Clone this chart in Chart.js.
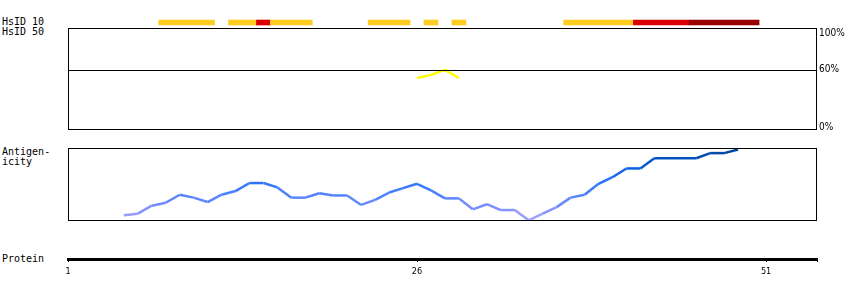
<!DOCTYPE html>
<html>
<head>
<meta charset="utf-8">
<script src="https://cdn.jsdelivr.net/npm/chart.js@4/dist/chart.umd.min.js"></script>
<style>
  body { margin: 0; background: #fff; }
  #wrap { position: relative; width: 850px; height: 300px; overflow: hidden; }
  #wrap canvas { position: absolute; left: 0; }
  .lbl { position: absolute; left: 2px; font: 10px "DejaVu Sans Mono", monospace; line-height: 10px; color: #000; white-space: pre; }
</style>
</head>
<body>
<div id="wrap">
  <div class="lbl" style="top:17px">HsID 10
HsID 50</div>
  <div class="lbl" style="top:147px">Antigen-
icity</div>
  <div class="lbl" style="top:254px">Protein</div>
  <canvas id="hsid" width="850" height="22" style="top:17px"></canvas>
  <canvas id="ident" width="850" height="120" style="top:20px"></canvas>
  <canvas id="antigen" width="850" height="90" style="top:140px"></canvas>
  <canvas id="protein" width="850" height="35" style="top:245px"></canvas>
</div>
<script>
// residue axis
const residueMin = 1;
const residueMax = 54.65;
const proteinTicks = [1, 26, 51];

// HsID rows and the HsID 10 segments (residue ranges)
const hsidRows = ['HsID 10', 'HsID 50'];
const hsid10Start = [8, 13, 15, 16, 23, 27, 29, 37, 42, 46];
const hsid10End = [11, 14, 15, 18, 25, 27, 29, 41, 45, 50];
const hsid10Level = ['mid', 'mid', 'high', 'mid', 'mid', 'mid', 'mid', 'mid', 'high', 'top'];

// identity (%) track
const identityResidues = [26, 27, 28, 29];
const identityValues = [51, 54, 59, 51];
const identityTicks = [0, 60, 100];

// antigenicity track (0-100)
const antigenResidues = [5, 6, 7, 8, 9, 10, 11, 12, 13, 14, 15, 16, 17, 18, 19, 20, 21, 22, 23, 24, 25, 26, 27,
    28, 29, 30, 31, 32, 33, 34, 35, 36, 37, 38, 39, 40, 41, 42, 43, 44, 45, 46, 47, 48, 49];
const antigenValues = [8, 10, 21, 25, 36, 32, 26, 36, 41, 52, 52, 46, 32, 32, 38, 35, 35, 22, 29, 39, 45, 51, 42,
    31, 31, 16, 23, 15, 15, 1, 10, 19, 32, 36, 51, 60, 72, 72, 86, 86, 86, 86, 93, 93, 98];

const levelColors = { mid: '#FFCC22', high: '#DD0000', top: '#990000' };
const pad = { left: 68, right: 33 };

function xScale(display) {
    return { type: 'linear', min: residueMin, max: residueMax, display: display };
}

function antigenColor(v) {
    const stops = [[0, [176, 166, 255]], [20, [120, 140, 255]], [40, [70, 128, 255]], [55, [40, 112, 250]], [75, [6, 94, 222]], [100, [0, 66, 150]]];
    for (let i = 1; i < stops.length; i++) {
        if (v <= stops[i][0]) {
            const a = stops[i - 1], b = stops[i];
            const t = (v - a[0]) / (b[0] - a[0]);
            const c = a[1].map((ch, k) => Math.round(ch + (b[1][k] - ch) * t));
            return 'rgb(' + c.join(',') + ')';
        }
    }
    return 'rgb(0,66,150)';
}

// black box round the plot area
const framePlugin = {
    id: 'frame',
    afterDraw: function (chart) {
        const a = chart.chartArea, ctx = chart.ctx;
        ctx.save();
        ctx.strokeStyle = '#000';
        ctx.lineWidth = 1;
        ctx.strokeRect(a.left + 0.5, a.top + 0.5, a.right - a.left - 1, a.bottom - a.top - 1);
        ctx.restore();
    }
};

const baseOptions = {
    responsive: false,
    animation: false,
    events: [],
    plugins: { legend: { display: false }, tooltip: { enabled: false } }
};

// HsID bars
new Chart(document.getElementById('hsid'), {
    type: 'bar',
    data: {
        labels: hsidRows,
        datasets: [{
            data: hsid10Start.map((s, i) => ({ x: [s - 0.5, hsid10End[i] + 0.5], y: hsidRows[0] })),
            backgroundColor: hsid10Level.map(l => levelColors[l]),
            borderWidth: 0,
            barThickness: 5
        }]
    },
    options: Object.assign({}, baseOptions, {
        indexAxis: 'y',
        layout: { padding: { left: pad.left, right: pad.right, top: 0, bottom: 0 } },
        scales: {
            x: xScale(false),
            y: { type: 'category', labels: hsidRows, display: false }
        }
    })
});

// identity track
new Chart(document.getElementById('ident'), {
    type: 'line',
    data: {
        datasets: [{
            data: identityResidues.map((r, i) => ({ x: r, y: identityValues[i] })),
            borderColor: '#FFFF00',
            borderWidth: 2.5,
            pointRadius: 0,
            tension: 0
        }]
    },
    options: Object.assign({}, baseOptions, {
        layout: { padding: { left: pad.left, right: pad.right, top: 8, bottom: 10 } },
        scales: {
            x: xScale(false),
            y: { type: 'linear', min: 0, max: 100, display: false }
        }
    }),
    plugins: [framePlugin, {
        id: 'identityAxis',
        afterDraw: function (chart) {
            const a = chart.chartArea, ctx = chart.ctx, y = chart.scales.y;
            ctx.save();
            ctx.strokeStyle = '#000';
            ctx.lineWidth = 1;
            ctx.fillStyle = '#000';
            ctx.font = '10px "Liberation Sans Narrow", "DejaVu Sans Condensed", sans-serif';
            ctx.textAlign = 'left';
            identityTicks.forEach(v => {
                const py = y.getPixelForValue(v);
                if (v > 0 && v < 100) {
                    const ly = Math.round(py) + 1.5;
                    ctx.beginPath();
                    ctx.moveTo(a.left, ly);
                    ctx.lineTo(a.right, ly);
                    ctx.stroke();
                }
                ctx.textBaseline = v === 100 ? 'top' : (v === 0 ? 'alphabetic' : 'middle');
                ctx.fillText(v + '%', a.right + 2, v === 0 ? a.bottom : (v === 100 ? py : py + 1));
            });
            ctx.restore();
        }
    }]
});

// antigenicity track
new Chart(document.getElementById('antigen'), {
    type: 'line',
    data: {
        datasets: [{
            data: antigenResidues.map((r, i) => ({ x: r, y: antigenValues[i] })),
            borderColor: '#3478ff',
            segment: {
                borderColor: c => antigenColor((c.p0.parsed.y + c.p1.parsed.y) / 2)
            },
            borderWidth: 2.5,
            pointRadius: 0,
            tension: 0
        }]
    },
    options: Object.assign({}, baseOptions, {
        layout: { padding: { left: pad.left, right: pad.right, top: 8, bottom: 9 } },
        scales: {
            x: xScale(false),
            y: { type: 'linear', min: 0, max: 100, display: false }
        }
    }),
    plugins: [framePlugin]
});

// protein ruler
new Chart(document.getElementById('protein'), {
    type: 'line',
    data: { datasets: [{ data: [] }] },
    options: Object.assign({}, baseOptions, {
        layout: { padding: { left: pad.left, right: pad.right, top: 0, bottom: 0 } },
        scales: {
            x: {
                type: 'linear',
                min: residueMin,
                max: residueMax,
                position: 'bottom',
                afterFit: s => { s.height = 21; },
                afterBuildTicks: s => { s.ticks = proteinTicks.concat([residueMax]).map(v => ({ value: v })); },
                border: { display: true, color: '#000', width: 3 },
                grid: { drawOnChartArea: false, drawTicks: true, tickLength: 3, color: '#000', lineWidth: 1 },
                ticks: {
                    autoSkip: false,
                    maxRotation: 0,
                    padding: 4,
                    color: '#000',
                    font: { family: '"Liberation Sans Narrow", "DejaVu Sans Condensed", sans-serif', size: 9 },
                    callback: v => proteinTicks.includes(v) ? String(v) : ''
                }
            },
            y: { display: false }
        }
    })
});
</script>
</body>
</html>
